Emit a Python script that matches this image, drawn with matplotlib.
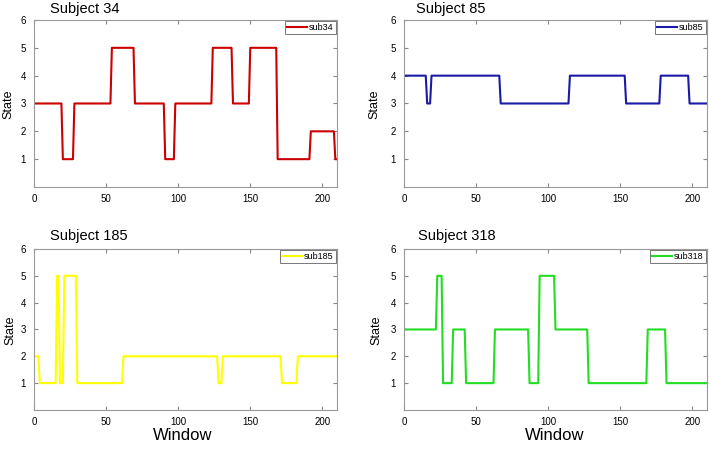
import matplotlib.pyplot as plt
import numpy as np

plt.rcParams['font.family'] = ['Liberation Sans', 'DejaVu Sans']

# run-length encoded state sequences: (state, number of windows)
sub34_runs = [(3, 20), (1, 8), (3, 26), (5, 16), (3, 21), (1, 7), (3, 26),
              (5, 14), (3, 12), (5, 19), (1, 23), (2, 17), (1, 2)]
sub85_runs = [(4, 16), (3, 3), (4, 48), (3, 48), (4, 39), (3, 24), (4, 20), (3, 13)]
sub185_runs = [(2, 4), (1, 12), (5, 2), (1, 3), (5, 9), (1, 32), (2, 66),
               (1, 3), (2, 41), (1, 11), (2, 28)]
sub318_runs = [(3, 23), (5, 4), (1, 7), (3, 9), (1, 20), (3, 24), (1, 7),
               (5, 11), (3, 23), (1, 41), (3, 13), (1, 29)]

titles = ['Subject 34', 'Subject 85', 'Subject 185', 'Subject 318']
labels = ['sub34', 'sub85', 'sub185', 'sub318']
colors = ['#cc0000', '#1a1aa6', '#ffff00', '#22dd22']
all_runs = [sub34_runs, sub85_runs, sub185_runs, sub318_runs]


def expand(runs):
    vals = [v for v, n in runs]
    lens = [n for v, n in runs]
    return np.repeat(vals, lens)


fig = plt.figure(figsize=(7.09, 4.49), dpi=100)

positions = [[0.048, 0.5835, 0.427, 0.372],
             [0.570, 0.5835, 0.427, 0.372],
             [0.048, 0.0869, 0.427, 0.3586],
             [0.570, 0.0869, 0.427, 0.3586]]
title_x = [50, 416, 50, 418]
title_y = [9, 9, 236, 236]
state_x = [8, 374, 10, 376]
state_y = [104, 104, 330, 330]

for i in range(4):
    ax = fig.add_axes(positions[i])
    y = expand(all_runs[i])
    x = np.arange(len(y))
    ax.plot(x, y, color=colors[i], linewidth=1.5, label=labels[i])
    ax.set_xlim(0, 210)
    ax.set_ylim(0, 6)
    ax.set_xticks([0, 50, 100, 150, 200])
    ax.set_yticks([1, 2, 3, 4, 5, 6])
    ax.tick_params(direction='in', top=True, right=True, labelsize=7,
                   length=3, color='#888888')
    ax.tick_params(axis='x', pad=5)
    ax.tick_params(axis='y', pad=6)
    for sp in ax.spines.values():
        sp.set_color('#999999')
        sp.set_linewidth(0.8)
    leg = ax.legend(loc='upper right', fontsize=6.5, handlelength=2.2,
                    handletextpad=0.2, borderpad=0.25, borderaxespad=0.1,
                    fancybox=False, framealpha=1)
    leg.get_frame().set_edgecolor('#777777')
    leg.get_frame().set_linewidth(0.7)
    fig.text(title_x[i] / 709, 1 - title_y[i] / 449, titles[i],
             fontsize=10.5, ha='left', va='center')
    fig.text(state_x[i] / 709, 1 - state_y[i] / 449, 'State',
             fontsize=9, rotation=90, ha='center', va='center')

fig.text(183 / 709, 1 - 436 / 449, 'Window', fontsize=12, ha='center', va='center')
fig.text(555 / 709, 1 - 436 / 449, 'Window', fontsize=12, ha='center', va='center')

fig.savefig('out.png', dpi=100)
